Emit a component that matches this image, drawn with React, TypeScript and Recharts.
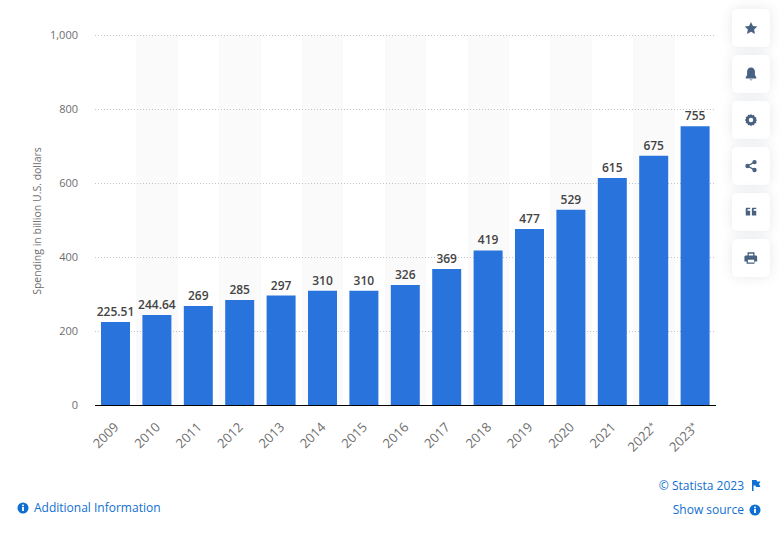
import { BarChart, Bar, XAxis, YAxis, CartesianGrid, LabelList, Label } from 'recharts'

const years = ['2009', '2010', '2011', '2012', '2013', '2014', '2015', '2016', '2017', '2018', '2019', '2020', '2021', '2022*', '2023*']
const spending = [225.51, 244.64, 269, 285, 297, 310, 310, 326, 369, 419, 477, 529, 615, 675, 755]
const yTicks = [0, 200, 400, 600, 800, 1000]

const data = years.map((year, i) => ({ year, spending: spending[i] }))

const FONT = '"Open Sans", sans-serif'
const ICON = '#4a6282'
const LINK = '#0f6fd1'

const formatValue = (v: number) => String(v)

// eslint-disable-next-line @typescript-eslint/no-explicit-any
const YearTick = ({ x, y, payload }: any) => {
  const year = String(payload.value)
  const starred = year.endsWith('*')
  return (
    <text
      x={x - 6}
      y={y - 1}
      transform={`rotate(-45 ${x - 6} ${y - 1})`}
      dx={-4}
      dy={18}
      textAnchor="end"
      fontFamily={FONT}
      fontSize={13}
      fill="#6e6e6e"
    >
      {starred ? year.slice(0, -1) : year}
      {starred && (
        <tspan fontSize={9} dy={-3}>
          *
        </tspan>
      )}
    </text>
  )
}

const AxisTitle = () => (
  <text
    x={41}
    y={221}
    transform="rotate(-90 41 221)"
    textAnchor="middle"
    fontFamily={FONT}
    fontSize={10.5}
    fill="#6e6e6e"
  >
    Spending in billion U.S. dollars
  </text>
)

const icons = [
  <path key="star" d="M8 1l2.200 4.600 5 .7-3.600 3.500.9 5L8 12.400l-4.500 2.400.9-5L.8 6.300l5-.7z" />,
  <path key="bell" d="M8 .5c2.900 0 4.500 2.300 4.500 5v4l1.500 2v1.500H2v-1.500l1.500-2v-4C3.500 2.800 5.100.5 8 .5zM6 14.300h4L8 15.500z" />,
  <path
    key="gear"
    fillRule="evenodd"
    d="M8 1l1.300 1.700 2.100-.4.700 2 2 .7-.4 2.100L15 8l-1.300 1.300.4 2.100-2 .7-.7 2-2.100-.4L8 15l-1.300-1.300-2.100.4-.7-2-2-.7.4-2.100L1 8l1.300-1.300-.4-2.100 2-.7.7-2 2.100.4zM8 5.500a2.500 2.500 0 1 0 0 5 2.500 2.500 0 0 0 0-5z"
  />,
  <g key="share">
    <circle cx="12" cy="3.500" r="2.500" />
    <circle cx="12" cy="12.500" r="2.500" />
    <circle cx="4" cy="8" r="2.500" />
    <path d="M4 8l8-4.500M4 8l8 4.500" stroke={ICON} strokeWidth="1.500" />
  </g>,
  <path key="quote" d="M2 4.500c0-1 .7-1.500 1.500-1.500H7v1.500H5c-.6 0-1 .4-1 1V6.500h3V12H2zM9 4.500c0-1 .7-1.500 1.500-1.500H14v1.500h-2c-.6 0-1 .4-1 1V6.500h3V12H9z" />,
  <path
    key="print"
    fillRule="evenodd"
    d="M4 1.500h8v3.500h1.500c.8 0 1.500.7 1.500 1.500V12h-3v2.500H3V12H0.500V6.500C.5 5.700 1.200 5 2 5h2zM5.500 3v2h5V3zM4.500 10v3h7v-3z"
  />,
]

const InfoIcon = ({ left, top }: { left: number; top: number }) => (
  <svg width={12} height={12} viewBox="0 0 12 12" style={{ position: 'absolute', left, top }}>
    <circle cx="6" cy="6" r="5.500" fill={LINK} />
    <rect x="5.100" y="5" width="1.800" height="4" fill="#fff" />
    <rect x="5.100" y="2.600" width="1.800" height="1.600" fill="#fff" />
  </svg>
)

export default function App() {
  return (
    <div style={{ position: 'absolute', left: 0, top: 0, width: 780, height: 534, background: '#fff', fontFamily: FONT, overflow: 'hidden' }}>
      <BarChart width={780} height={534} data={data} margin={{ top: 35.5, right: 64, left: 0, bottom: 98.5 }}>
        <CartesianGrid
          horizontal={false}
          stroke="none"
          verticalFill={['#ffffff', '#fafafa']}
          verticalCoordinatesGenerator={({ offset }: any) =>
            years.map((_, i) => offset.left + (i * offset.width) / years.length)
          }
        />
        <CartesianGrid vertical={false} stroke="#c4c4c4" strokeDasharray="1 2" />
        <XAxis
          dataKey="year"
          interval={0}
          tick={<YearTick />}
          tickLine={false}
          axisLine={{ stroke: '#000' }}
        />
        <YAxis
          width={95}
          domain={[0, 1000]}
          ticks={yTicks}
          tickFormatter={(v) => v.toLocaleString('en-US')}
          tick={{ fill: '#6e6e6e', fontSize: 11, fontFamily: FONT }}
          tickSize={0}
          tickMargin={17}
          axisLine={false}
        >
          <Label content={<AxisTitle />} />
        </YAxis>
        <Bar dataKey="spending" fill="#2874dc" barSize={29} isAnimationActive={false}>
          <LabelList
            dataKey="spending"
            position="top"
            offset={6}
            formatter={formatValue}
            fill="#444"
            fontSize={12}
            fontWeight={600}
            fontFamily={FONT}
          />
        </Bar>
      </BarChart>

      {icons.map((icon, i) => (
        <div
          key={i}
          style={{
            position: 'absolute',
            left: 732,
            top: 9 + i * 46,
            width: 38,
            height: 38,
            borderRadius: 5,
            background: '#fff',
            boxShadow: '0 0 12px rgba(60,80,110,0.13)',
            display: 'flex',
            alignItems: 'center',
            justifyContent: 'center',
          }}
        >
          <svg width={14} height={14} viewBox="0 0 16 16" fill={ICON}>
            {icon}
          </svg>
        </div>
      ))}

      <InfoIcon left={17} top={502} />
      <div style={{ position: 'absolute', left: 34, top: 499, fontSize: 12, color: LINK, whiteSpace: 'nowrap' }}>
        Additional Information
      </div>
      <div style={{ position: 'absolute', right: 36, top: 477, fontSize: 12, color: LINK, whiteSpace: 'nowrap' }}>
        © Statista 2023
      </div>
      <svg width={10} height={11} viewBox="0 0 10 11" style={{ position: 'absolute', left: 751, top: 480 }}>
        <path d="M1 0h4.500l.5 1.500H9.500L8 4l1.500 3H5l-.5-1.500H2.500V11H1z" fill={LINK} />
      </svg>
      <div style={{ position: 'absolute', right: 36, top: 501, fontSize: 12, color: LINK, whiteSpace: 'nowrap' }}>
        Show source
      </div>
      <InfoIcon left={749} top={504} />
    </div>
  )
}
